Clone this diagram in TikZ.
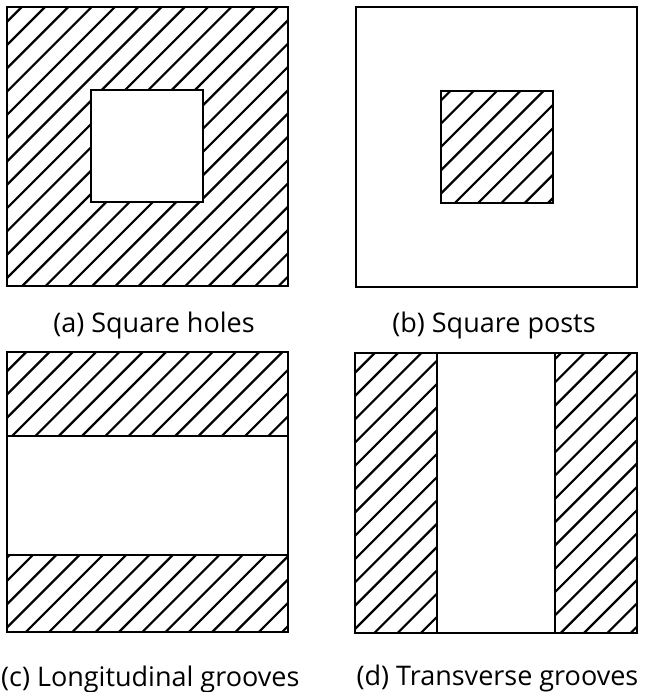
\documentclass[tikz,border=0pt]{standalone}
\usepackage{fontspec}
\setmainfont{Open Sans}
\usepackage{tikz}
\usetikzlibrary{positioning}

% hatch a rectangle given by two corners (x1,y1) (x2,y2), image pixels, y down
\newcommand{\hatchrect}[4]{%
  \begin{scope}
    \clip (#1,#2) rectangle (#3,#4);
    \foreach \c in {5.4,28.7,...,1345} \draw[hatch] (\c+20,-20) -- (\c-720,720);
  \end{scope}}

\begin{document}
\begin{tikzpicture}[x=1pt, y=-1pt,
    frame/.style={draw, line width=2.3pt},
    hatch/.style={line width=2.2pt},
    caption/.style={font=\fontsize{27}{33}\selectfont, inner sep=0pt, anchor=base}
  ]
  \useasboundingbox (0,0) rectangle (646,692);

  % (a) square holes
  \hatchrect{7}{7}{288}{286}
  \fill[white] (91,90) rectangle (203,202);
  \draw[frame] (7,7) rectangle (288,286);
  \draw[frame] (91,90) rectangle (203,202);
  \node[caption] (capA) at (154,332) {(a) Square holes};

  % (b) square posts
  \hatchrect{441}{91}{553}{203}
  \draw[frame] (356,7) rectangle (637,287);
  \draw[frame] (441,91) rectangle (553,203);
  \node[caption] (capB) at (494,332) {(b) Square posts};

  % (c) longitudinal grooves
  \hatchrect{7}{352}{288}{436}
  \hatchrect{7}{555}{288}{632}
  \draw[frame] (7,352) rectangle (288,632);
  \draw[frame] (7,436) -- (288,436);
  \draw[frame] (7,555) -- (288,555);
  \node[caption, anchor=base west] (capC) at (1,686) {(c) Longitudinal grooves};

  % (d) transverse grooves
  \hatchrect{355}{353}{437}{633}
  \hatchrect{555}{353}{637}{633}
  \draw[frame] (355,353) rectangle (637,633);
  \draw[frame] (437,353) -- (437,633);
  \draw[frame] (555,353) -- (555,633);
  \node[caption] (capD) at (497.5,685) {(d) Transverse grooves};
\end{tikzpicture}
\end{document}
